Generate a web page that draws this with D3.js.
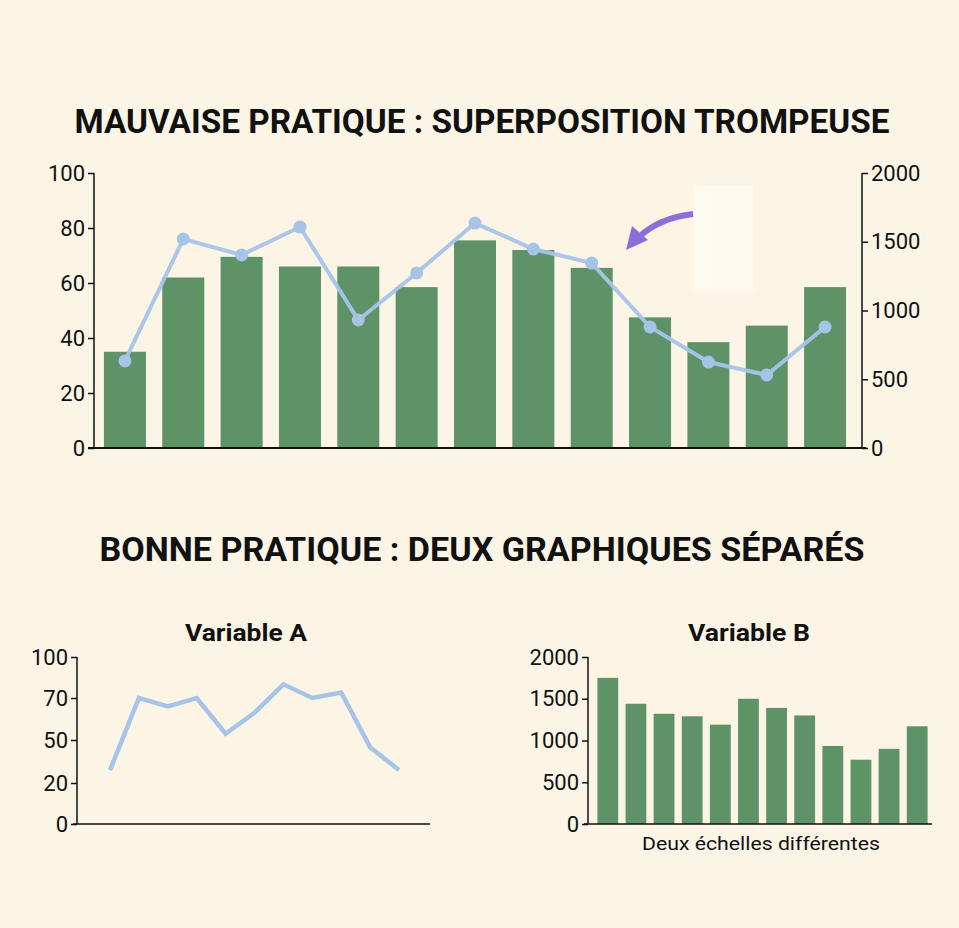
<!DOCTYPE html>
<html><head><meta charset="utf-8">
<script src="https://cdn.jsdelivr.net/npm/d3@7"></script>
<style>body{margin:0;background:#fcf5e6}svg{display:block}text{font-family:Roboto,sans-serif;fill:#111}</style>
</head><body><svg id="c" width="959" height="928"></svg>
<script>
const topBars=[35,62,69.5,66,66,58.5,75.5,72,65.5,47.5,38.5,44.5,58.5];
const topLine=[633,1520,1404,1607,931,1273,1636,1447,1345,880,625,531,880];
const leftTicks=[0,20,40,60,80,100];
const rightTicks=[0,500,1000,1500,2000];
const varA=[29,70,66,70,53,63,80,70,74,45,29];
const varATicks=[0,20,50,70,100];
const varB=[1750,1440,1320,1290,1190,1500,1390,1300,935,770,900,1170];
const varBTicks=[0,500,1000,1500,2000];
const green="#5e9267", blue="#a6c4e8";
const fmt=d3.format("d");
const svg=d3.select("#c");
svg.append("rect").attr("width",959).attr("height",928).attr("fill","#fcf5e6");
function title(t,x,y,w,s){svg.append("text").attr("x",x).attr("y",y).attr("text-anchor","middle").attr("font-size",s).attr("font-weight",700).attr("textLength",w).attr("lengthAdjust","spacingAndGlyphs").text(t);}
title("MAUVAISE PRATIQUE : SUPERPOSITION TROMPEUSE",482,133,815,34);
title("BONNE PRATIQUE : DEUX GRAPHIQUES SÉPARÉS",482,561,765,34);
title("Variable A",246,641,122,24);
title("Variable B",749,641,122,24);
function style(g){g.selectAll("text").attr("font-size",22).style("font-family","Roboto").attr("fill","#111");g.selectAll("path,line").attr("stroke","#111").attr("stroke-width",1.5);}
// top chart
const x=d3.scaleBand().domain(d3.range(topBars.length)).range([101,849]).paddingInner(0.28).paddingOuter(0.05);
const yL=d3.scaleLinear().domain([0,100]).range([448,173]);
const yR=d3.scaleLinear().domain([0,2000]).range([448,173]);
svg.selectAll(".tb").data(topBars).join("rect").attr("x",(d,i)=>x(i)).attr("width",x.bandwidth()).attr("y",d=>yL(d)).attr("height",d=>448-yL(d)).attr("fill",green);
const gl=svg.append("g").attr("transform","translate(94,0)").call(d3.axisLeft(yL).tickValues(leftTicks).tickFormat(fmt).tickSize(6).tickSizeOuter(0));style(gl);gl.select(".domain").remove();
svg.append("line").attr("x1",94).attr("x2",94).attr("y1",173).attr("y2",448).attr("stroke","#111").attr("stroke-width",1.5);
const gr=svg.append("g").attr("transform","translate(862,0)").call(d3.axisRight(yR).tickValues(rightTicks).tickFormat(fmt).tickSize(6).tickSizeOuter(0));style(gr);gr.select(".domain").remove();
svg.append("line").attr("x1",862).attr("x2",862).attr("y1",173).attr("y2",448).attr("stroke","#111").attr("stroke-width",1.5);
svg.append("line").attr("x1",88).attr("x2",866).attr("y1",448).attr("y2",448).attr("stroke","#111").attr("stroke-width",2);
const lineT=d3.line().x((d,i)=>x(i)+x.bandwidth()/2).y(d=>yR(d));
svg.append("path").datum(topLine).attr("d",lineT).attr("fill","none").attr("stroke",blue).attr("stroke-width",4).attr("opacity",0.95);
svg.selectAll(".tp").data(topLine).join("circle").attr("cx",(d,i)=>x(i)+x.bandwidth()/2).attr("cy",d=>yR(d)).attr("r",6.5).attr("fill",blue);
// arrow
svg.append("rect").attr("x",694).attr("y",185).attr("width",60).attr("height",105).attr("fill","#fefaf0");
svg.append("path").attr("d","M693,214 Q660,218 640,236").attr("fill","none").attr("stroke","#8a6fd8").attr("stroke-width",6);
svg.append("path").attr("d","M626,250 L632,226 L648,240 Z").attr("fill","#8a6fd8");
// variable A
const xa=d3.scalePoint().domain(d3.range(varA.length)).range([110,399]);
const ya=d3.scaleLinear().domain(varATicks).range([824,783,740,698,657]);
const ga=svg.append("g").attr("transform","translate(77,0)").call(d3.axisLeft(ya).tickValues(varATicks).tickFormat(fmt).tickSize(6).tickSizeOuter(0));style(ga);ga.select(".domain").remove();
svg.append("line").attr("x1",77).attr("x2",77).attr("y1",657).attr("y2",824).attr("stroke","#111").attr("stroke-width",1.5);
svg.append("line").attr("x1",73).attr("x2",430).attr("y1",824).attr("y2",824).attr("stroke","#111").attr("stroke-width",1.5);
svg.append("path").datum(varA).attr("d",d3.line().x((d,i)=>xa(i)).y(d=>ya(d))).attr("fill","none").attr("stroke",blue).attr("stroke-width",4.5);
// variable B
const xb=d3.scaleBand().domain(d3.range(varB.length)).range([596,929]).paddingInner(0.26).paddingOuter(0.05);
const yb=d3.scaleLinear().domain([0,2000]).range([824,657]);
svg.selectAll(".bb").data(varB).join("rect").attr("x",(d,i)=>xb(i)).attr("width",xb.bandwidth()).attr("y",d=>yb(d)).attr("height",d=>824-yb(d)).attr("fill",green);
const gb=svg.append("g").attr("transform","translate(588,0)").call(d3.axisLeft(yb).tickValues(varBTicks).tickFormat(fmt).tickSize(6).tickSizeOuter(0));style(gb);gb.select(".domain").remove();
svg.append("line").attr("x1",588).attr("x2",588).attr("y1",657).attr("y2",824).attr("stroke","#111").attr("stroke-width",1.5);
svg.append("line").attr("x1",584).attr("x2",932).attr("y1",824).attr("y2",824).attr("stroke","#111").attr("stroke-width",1.5);
svg.append("text").attr("x",761).attr("y",850).attr("text-anchor","middle").attr("font-size",19).attr("textLength",238).attr("lengthAdjust","spacingAndGlyphs").text("Deux échelles différentes");
</script></body></html>
